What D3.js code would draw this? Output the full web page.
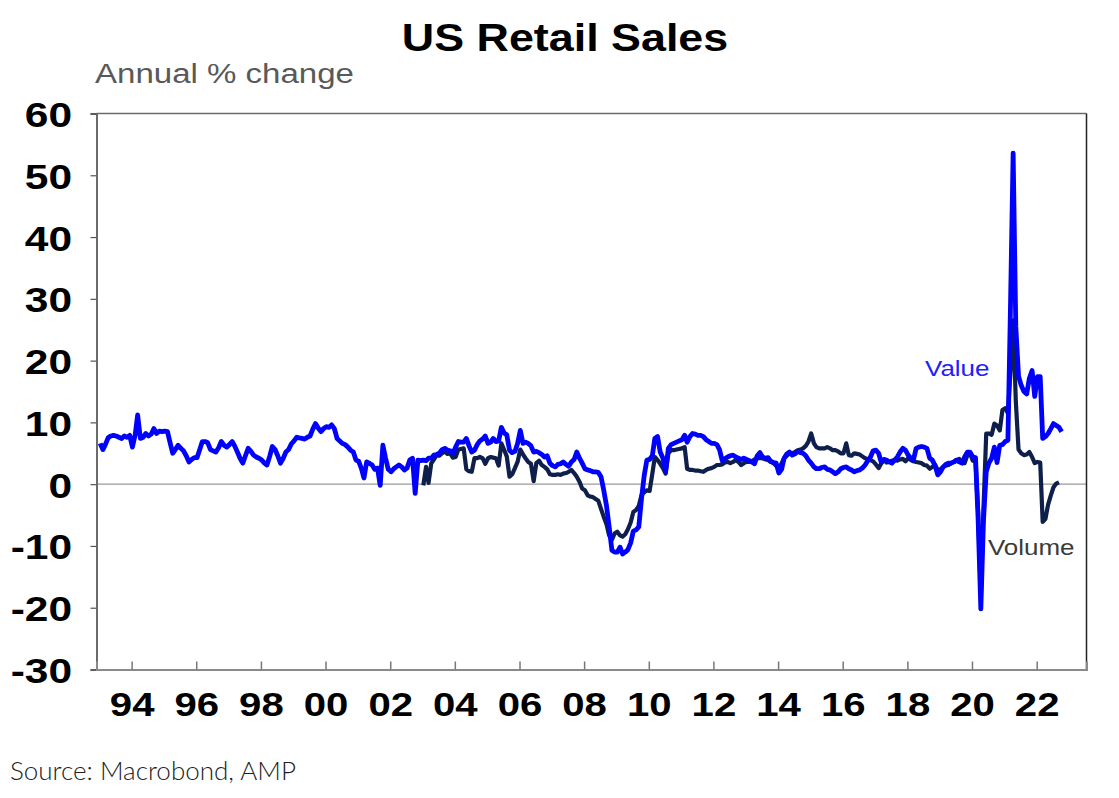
<!DOCTYPE html>
<html>
<head>
<meta charset="utf-8">
<script src="https://cdn.jsdelivr.net/npm/d3@7"></script>
<style>
	body { margin: 0; background: #ffffff; }
	svg { display: block; }
	.title { font-family: "Liberation Sans", Arial, sans-serif; font-weight: bold; font-size: 38px; fill: #000; }
	.subtitle { font-family: "Liberation Sans", Arial, sans-serif; font-size: 28px; fill: #595959; }
	.ylab { font-family: "Liberation Sans", Arial, sans-serif; font-weight: bold; font-size: 36px; fill: #000; }
	.xlab { font-family: "Liberation Sans", Arial, sans-serif; font-weight: bold; font-size: 34px; fill: #000; }
	.source { font-family: Lato, "Open Sans", sans-serif; font-weight: 300; font-size: 26px; fill: #222; }
	.serieslab { font-family: "Liberation Sans", Arial, sans-serif; font-size: 22px; }
</style>
</head>
<body>
<svg class="chart"></svg>
<script>

// US retail sales, annual % change, monthly values
// value series starts January 1993
var valueChange = [
	6.6, 5.6, 6.4, 7.5, 7.8, 7.9, 7.8, 7.6, 7.4, 7.8, 7.6, 7.9,     // 1993
	6.0, 8.0, 11.2, 7.4, 7.6, 8.2, 7.8, 8.1, 9.0, 8.2, 8.6, 8.5,    // 1994
	8.6, 8.5, 6.8, 5.0, 5.6, 6.3, 5.8, 5.4, 4.6, 3.6, 4.0, 4.3,     // 1995
	4.3, 5.6, 6.9, 6.9, 6.7, 5.6, 5.4, 5.2, 5.9, 6.9, 6.3, 6.0,     // 1996
	6.4, 6.9, 6.2, 5.2, 4.2, 3.4, 4.6, 5.8, 5.3, 4.7, 4.4, 4.2,     // 1997
	3.9, 3.4, 3.1, 4.5, 6.1, 5.6, 4.6, 3.4, 4.2, 5.2, 5.6, 6.5,     // 1998
	7.0, 7.6, 7.5, 7.4, 7.3, 7.6, 7.8, 8.9, 9.8, 9.1, 8.5, 9.0,     // 1999
	9.3, 9.2, 9.6, 9.0, 7.4, 7.0, 6.6, 6.4, 6.0, 5.5, 5.2, 3.9,     // 2000
	3.7, 2.5, 1.0, 3.6, 3.4, 3.1, 2.4, 2.6, -0.2, 6.3, 4.2, 2.4,    // 2001
	2.0, 2.5, 2.8, 3.1, 2.8, 2.3, 2.6, 3.9, 4.2, -1.5, 3.9, 3.8,    // 2002
	3.9, 3.8, 4.2, 4.2, 4.7, 4.8, 5.0, 5.6, 5.8, 5.5, 5.4, 5.0,     // 2003
	6.0, 6.9, 6.8, 6.8, 7.4, 6.2, 5.2, 5.5, 6.4, 7.0, 7.3, 7.8,     // 2004
	6.6, 6.8, 7.4, 6.9, 7.0, 9.2, 8.3, 8.0, 5.5, 5.1, 5.3, 6.6,     // 2005
	8.7, 6.6, 6.8, 6.6, 6.2, 5.2, 5.3, 5.1, 4.8, 4.4, 4.6, 3.4,     // 2006
	3.0, 2.8, 3.2, 3.3, 3.6, 3.2, 2.9, 3.6, 4.0, 5.2, 4.2, 3.4,     // 2007
	2.5, 2.3, 2.2, 2.0, 2.0, 1.9, 1.2, -1.0, -3.5, -6.9, -10.7, -11.0,   // 2008
	-11.0, -10.2, -11.3, -11.0, -10.6, -9.5, -7.6, -7.4, -6.9, -2.4, 1.4, 3.9, // 2009
	4.0, 4.6, 7.4, 7.7, 5.2, 4.2, 2.0, 5.8, 6.4, 6.6, 6.8, 7.0,     // 2010
	7.2, 7.9, 6.8, 7.7, 8.2, 8.1, 7.9, 7.9, 7.7, 7.2, 6.9, 6.6,     // 2011
	6.6, 6.4, 5.6, 3.8, 4.1, 4.4, 4.6, 4.7, 4.4, 4.2, 4.0, 4.2,     // 2012
	4.0, 3.8, 3.6, 3.3, 4.6, 5.1, 4.4, 4.2, 4.3, 3.7, 3.5, 3.4,     // 2013
	1.8, 2.4, 4.2, 4.9, 5.2, 4.7, 4.9, 5.3, 5.1, 5.0, 4.6, 3.9,     // 2014
	3.4, 2.8, 2.5, 2.5, 2.7, 2.8, 2.4, 2.3, 2.0, 1.7, 2.0, 2.5,     // 2015
	2.7, 2.8, 2.5, 2.3, 2.0, 2.2, 2.3, 2.6, 3.1, 3.8, 4.4, 5.4,     // 2016
	5.5, 5.0, 3.6, 4.0, 3.9, 3.6, 3.4, 3.9, 4.4, 5.2, 5.8, 5.5,     // 2017
	4.7, 4.2, 3.9, 5.8, 6.0, 6.1, 6.0, 5.8, 4.2, 3.9, 3.0, 1.5,     // 2018
	2.0, 2.8, 3.2, 3.4, 3.4, 3.6, 3.9, 3.6, 3.4, 4.4, 5.2, 5.2,     // 2019
	4.4, 4.3, -5.5, -20.2, -5.8, 2.0, 3.4, 4.2, 6.0, 3.5, 6.3, 6.4, // 2020
	6.9, 7.1, 28.0, 53.6, 25.5, 17.5, 16.0, 15.0, 14.6, 17.1, 18.4, 14.2, // 2021
	17.4, 17.4, 7.4, 7.7, 8.2, 9.0, 9.8, 9.5, 9.2, 8.5              // 2022
];
var valueStart = [1993, 0];

// volume series starts January 2003
var volumeChange = [
	-0.2, 2.8, 0.2, 3.4, 4.0, 4.7, 4.6, 5.0, 5.3, 4.9, 5.0, 4.3,    // 2003
	4.4, 5.6, 5.7, 5.8, 2.4, 2.1, 2.0, 4.2, 4.2, 4.4, 4.2, 3.3,     // 2004
	4.2, 4.4, 4.3, 4.2, 3.0, 6.6, 5.6, 4.5, 1.2, 1.6, 2.6, 3.6,     // 2005
	5.6, 4.8, 4.2, 3.6, 3.3, 0.5, 3.4, 3.8, 3.1, 2.8, 2.4, 1.6,     // 2006
	1.5, 1.5, 1.6, 1.5, 1.7, 1.8, 2.0, 2.3, 1.8, 1.2, 0.4, -0.7,    // 2007
	-1.0, -1.8, -2.0, -2.1, -2.4, -2.7, -4.0, -5.3, -6.5, -8.3, -9.0, -8.0, // 2008
	-7.7, -8.3, -8.5, -8.1, -7.3, -6.2, -4.5, -4.2, -3.5, -1.8, -1.3, -1.0, // 2009
	-1.1, 1.7, 4.4, 3.9, 3.3, 2.6, 1.7, 5.0, 5.5, 5.5, 5.6, 5.7,    // 2010
	5.8, 6.0, 2.5, 2.3, 2.3, 2.2, 2.2, 2.1, 2.0, 2.3, 2.5, 2.6,     // 2011
	2.8, 3.1, 3.1, 3.2, 3.5, 3.6, 3.4, 3.6, 3.9, 3.6, 3.1, 3.4,     // 2012
	3.6, 3.6, 3.7, 4.0, 4.2, 4.2, 4.2, 4.0, 3.9, 3.6, 3.4, 3.0,     // 2013
	2.5, 3.4, 4.2, 4.6, 5.0, 5.0, 5.2, 5.5, 5.6, 5.8, 6.2, 6.9,     // 2014
	8.2, 6.6, 6.0, 5.8, 5.8, 5.8, 6.0, 5.8, 5.5, 5.5, 5.3, 5.0,     // 2015
	5.0, 6.6, 4.7, 4.6, 5.0, 4.9, 4.8, 4.5, 4.2, 4.0, 3.9, 3.7,     // 2016
	3.2, 2.6, 3.3, 3.9, 3.5, 3.6, 3.8, 3.9, 3.8, 4.0, 4.1, 3.7,     // 2017
	4.2, 3.9, 3.7, 3.6, 3.5, 3.4, 3.1, 3.0, 2.5, 2.8, 3.1, 2.3,     // 2018
	2.4, 2.8, 3.0, 3.1, 3.4, 3.6, 3.9, 4.1, 3.6, 3.4, 4.7, 5.0,     // 2019
	3.8, 3.7, -4.5, -18.0, -4.0, 8.2, 8.2, 8.0, 9.8, 9.5, 8.7, 12.0, // 2020
	12.3, 11.5, 18.0, 26.5, 13.5, 5.6, 5.0, 4.7, 4.8, 5.2, 4.4, 3.4, // 2021
	3.6, 3.5, -6.1, -5.6, -3.3, -1.8, -0.5, 0.1, 0.3                // 2022
];
var volumeStart = [2003, 0];

var yTicks = [-30, -20, -10, 0, 10, 20, 30, 40, 50, 60];
var xTickYears = [1994, 1996, 1998, 2000, 2002, 2004, 2006, 2008, 2010, 2012, 2014, 2016, 2018, 2020, 2022];

var width = 1119;
var height = 798;
var plot = {left: 96.5, right: 1086.5, top: 113.5, bottom: 669.5};
// the original chart is a little wider than its fonts
var stretch = 1.18;

// turn a list of monthly values into dated points
function to_points(values, start) {
	return values.map(function(v, i) {
		return {date: new Date(start[0], start[1] + i, 10), value: v};
	});
}

// text that is stretched sideways like the original
function wide_text(svg, cls, x, y, anchor, label) {
	return svg.append("text")
		.attr("class", cls)
		.attr("transform", "translate(" + x + "," + y + ") scale(" + stretch + ",1)")
		.style("text-anchor", anchor)
		.text(label);
}

function make_chart() {
	var svg = d3.select(".chart")
		.attr("width", width)
		.attr("height", height);

	var x = d3.scaleTime()
		.domain([new Date(1992, 10, 30), new Date(2023, 6, 18)])
		.range([plot.left, plot.right]);
	var y = d3.scaleLinear()
		.domain([-30, 60])
		.range([plot.bottom, plot.top]);

	// titles
	wide_text(svg, "title", 565, 51, "middle", "US Retail Sales");
	wide_text(svg, "subtitle", 95, 83, "start", "Annual % change");

	// zero line
	svg.append("line")
		.attr("x1", plot.left)
		.attr("x2", plot.right)
		.attr("y1", y(0))
		.attr("y2", y(0))
		.attr("stroke", "#9a9a9a")
		.attr("stroke-width", 1.2);

	// lines
	var line = d3.line()
		.x(function(d) { return x(d.date); })
		.y(function(d) { return y(d.value); });

	svg.append("path")
		.datum(to_points(volumeChange, volumeStart))
		.attr("fill", "none")
		.attr("stroke", "#0f1f4b")
		.attr("stroke-width", 4.2)
		.attr("stroke-linejoin", "round")
		.attr("d", line);

	svg.append("path")
		.datum(to_points(valueChange, valueStart))
		.attr("fill", "none")
		.attr("stroke", "#0000ff")
		.attr("stroke-width", 4.8)
		.attr("stroke-linejoin", "round")
		.attr("d", line);

	// frame
	svg.append("line")
		.attr("x1", plot.left).attr("x2", plot.right)
		.attr("y1", plot.top).attr("y2", plot.top)
		.attr("stroke", "#6b6b6b").attr("stroke-width", 1.5);
	svg.append("line")
		.attr("x1", plot.right).attr("x2", plot.right)
		.attr("y1", plot.top).attr("y2", plot.bottom)
		.attr("stroke", "#222").attr("stroke-width", 1.5);

	// y axis
	var yAxis = svg.append("g")
		.attr("transform", "translate(" + plot.left + ",0)")
		.call(d3.axisLeft(y).tickValues(yTicks).tickSize(6)
			.tickFormat(function(d) { return String(d); }));
	yAxis.select(".domain").attr("stroke", "#6b6b6b").attr("stroke-width", 2);
	yAxis.selectAll(".tick line").attr("stroke", "#555").attr("stroke-width", 1.2);
	yAxis.selectAll(".tick text")
		.attr("class", "ylab")
		.attr("x", -24.5 / stretch)
		.attr("dy", "0.36em")
		.attr("transform", "scale(" + stretch + ",1)");

	// x axis
	var xAxis = svg.append("g")
		.attr("transform", "translate(0," + plot.bottom + ")")
		.call(d3.axisBottom(x)
			.tickValues(xTickYears.map(function(yr) { return new Date(yr, 0, 1); }))
			.tickSize(-8)
			.tickFormat(d3.timeFormat("%y")));
	xAxis.select(".domain").attr("stroke", "#8a8a8a").attr("stroke-width", 2);
	xAxis.selectAll(".tick line").attr("stroke", "#777").attr("stroke-width", 1.5);
	xAxis.selectAll(".tick text")
		.attr("class", "xlab")
		.attr("y", 47)
		.attr("dy", 0)
		.attr("transform", "scale(" + stretch + ",1)");

	// series labels
	wide_text(svg, "serieslab", 925, 376, "start", "Value").attr("fill", "#2020ff");
	wide_text(svg, "serieslab", 988, 555, "start", "Volume").attr("fill", "#3a3a3a");

	// source
	svg.append("text")
		.attr("class", "source")
		.attr("x", 10)
		.attr("y", 780)
		.text("Source: Macrobond, AMP");
}

make_chart();
</script>
</body>
</html>
